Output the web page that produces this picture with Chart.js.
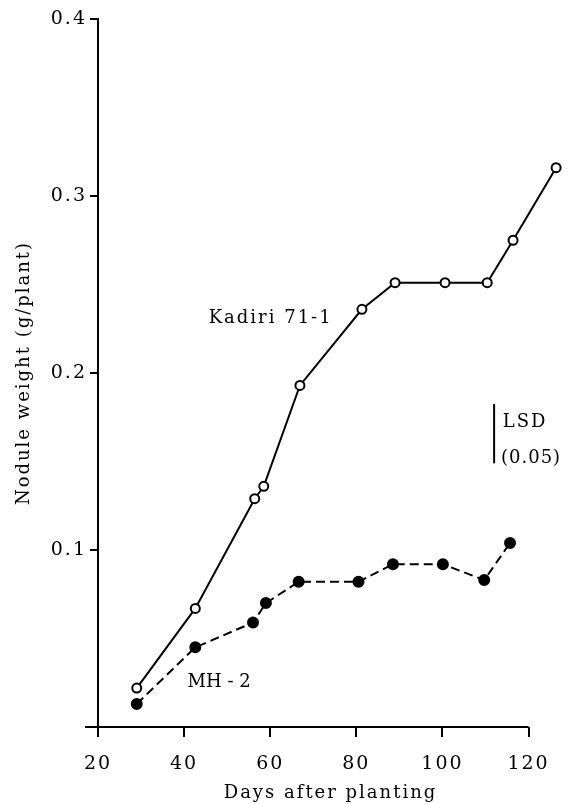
<!DOCTYPE html>
<html>
<head>
<meta charset="utf-8">
<script src="https://cdn.jsdelivr.net/npm/chart.js@4/dist/chart.umd.min.js"></script>
<style>
	body { margin: 0; background: #fff; }
	.graphic { width: 571px; height: 804px; }
</style>
</head>
<body>
<div class="graphic"><canvas class="graphic__canvas"></canvas></div>
<script>
// Данные
const KADIRI_DAYS = [29, 42.6, 56.4, 58.5, 66.9, 81.3, 89, 100.6, 110.4, 116.4, 126.4];
const KADIRI_WEIGHT = [0.022, 0.067, 0.129, 0.136, 0.193, 0.236, 0.251, 0.251, 0.251, 0.275, 0.316];

const MH_DAYS = [29, 42.6, 56, 59, 66.6, 80.5, 88.5, 100.1, 109.7, 115.7];
const MH_WEIGHT = [0.013, 0.045, 0.059, 0.070, 0.082, 0.082, 0.092, 0.092, 0.083, 0.104];

const LSD_DAY = 112;
const LSD_RANGE = [0.149, 0.1825];

const X_TICKS = [20, 40, 60, 80, 100, 120];
const Y_TICKS = [0.1, 0.2, 0.3, 0.4];

// Подписи внутри графика (в координатах данных)
const LABELS = [
	{ text: 'Kadiri 71-1', x: 45.7, y: 0.231, spacing: 2 },
	{ text: 'MH - 2', x: 40.8, y: 0.0254, spacing: 0 },
	{ text: 'LSD', x: 114, y: 0.172, spacing: 2 },
	{ text: '(0.05)', x: 113.6, y: 0.152, spacing: 1 }
];

const FONT = 'DejaVu Serif';

function toPoints(xs, ys) {
	return xs.map((x, i) => ({ x: x, y: ys[i] }));
}

//Подписи и ось X
const extras = {
	id: 'extras',
	beforeDraw(chart) {
		chart.ctx.letterSpacing = '2px';
	},
	afterDatasetsDraw(chart) {
		let ctx = chart.ctx;
		let xs = chart.scales.x;
		let ys = chart.scales.y;

		ctx.save();
		ctx.strokeStyle = '#000';
		ctx.lineWidth = 2;
		ctx.beginPath();
		ctx.moveTo(xs.left - 13, ys.bottom);
		ctx.lineTo(xs.getPixelForValue(120), ys.bottom);
		ctx.stroke();

		ctx.fillStyle = '#000';
		ctx.font = '18px "' + FONT + '"';
		ctx.textBaseline = 'middle';
		ctx.textAlign = 'left';
		LABELS.forEach((label) => {
			ctx.letterSpacing = label.spacing + 'px';
			ctx.fillText(label.text, xs.getPixelForValue(label.x), ys.getPixelForValue(label.y));
		});
		ctx.restore();
	}
};

let chart = new Chart(document.querySelector('.graphic__canvas'), {
	type: 'scatter',
	data: {
		datasets: [
			{
				label: 'Kadiri 71-1',
				data: toPoints(KADIRI_DAYS, KADIRI_WEIGHT),
				showLine: true,
				borderColor: '#000',
				borderWidth: 2,
				pointRadius: 4.5,
				pointBorderWidth: 2,
				pointBackgroundColor: '#fff',
				pointBorderColor: '#000'
			},
			{
				label: 'MH-2',
				data: toPoints(MH_DAYS, MH_WEIGHT),
				showLine: true,
				borderColor: '#000',
				borderWidth: 2,
				borderDash: [9, 5],
				pointRadius: 5,
				pointBackgroundColor: '#000',
				pointBorderColor: '#000'
			},
			{
				label: 'LSD',
				data: toPoints([LSD_DAY, LSD_DAY], LSD_RANGE),
				showLine: true,
				borderColor: '#000',
				borderWidth: 2,
				pointRadius: 0
			}
		]
	},
	options: {
		responsive: true,
		maintainAspectRatio: false,
		animation: false,
		layout: { padding: { top: 19, right: 8, left: 0, bottom: 0 } },
		plugins: {
			legend: { display: false },
			tooltip: { enabled: false }
		},
		scales: {
			x: {
				type: 'linear',
				min: 20,
				max: 128,
				afterBuildTicks: (scale) => { scale.ticks = X_TICKS.map((v) => ({ value: v })); },
				afterFit: (scale) => { scale.height = 77; },
				border: { display: false },
				grid: { drawOnChartArea: false, color: '#000', lineWidth: 2, tickLength: 10 },
				ticks: {
					color: '#000',
					padding: 16,
					maxRotation: 0,
					font: { family: FONT, size: 19 }
				},
				title: {
					display: true,
					text: 'Days after planting',
					color: '#000',
					font: { family: FONT, size: 18 },
					padding: { top: 0, bottom: 0 }
				}
			},
			y: {
				min: 0,
				max: 0.4,
				afterBuildTicks: (scale) => { scale.ticks = Y_TICKS.map((v) => ({ value: v })); },
				afterFit: (scale) => { scale.width = 98; },
				border: { display: true, color: '#000', width: 2 },
				grid: { drawOnChartArea: false, color: '#000', lineWidth: 2, tickLength: 8 },
				ticks: {
					color: '#000',
					padding: 3,
					font: { family: FONT, size: 19 },
					callback: (value) => value.toFixed(1)
				},
				title: {
					display: true,
					text: 'Nodule weight (g/plant)',
					color: '#000',
					font: { family: FONT, size: 18 },
					padding: { top: 14, bottom: 0 }
				}
			}
		}
	},
	plugins: [extras]
});
</script>
</body>
</html>
